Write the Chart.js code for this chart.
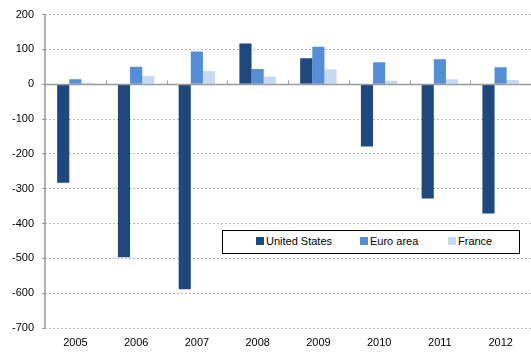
<!DOCTYPE html>
<html>
<head>
<meta charset="utf-8">
<script src="https://cdn.jsdelivr.net/npm/chart.js@4/dist/chart.umd.min.js"></script>
<style>
  body { margin: 0; background: #fff; }
  #wrap { position: relative; width: 531px; height: 352px; }
  #legend {
    position: absolute; left: 222px; top: 230px; width: 296px; height: 22px;
    border: 1px solid #000; background: #fff;
    font: 11px "Liberation Sans", Arial, sans-serif; color: #000;
  }
  #legend span.item { position: absolute; top: 4px; white-space: nowrap; }
  #legend i { display: inline-block; width: 8px; height: 8px; margin-right: 2px; }
</style>
</head>
<body>
<div id="wrap">
  <canvas id="chart" width="531" height="352"></canvas>
  <div id="legend"></div>
</div>
<script>
// values
const years = ['2005', '2006', '2007', '2008', '2009', '2010', '2011', '2012'];
const unitedStates = [-283, -497, -589, 117, 75, -179, -328, -371];
const euroArea = [14, 50, 94, 44, 108, 63, 72, 49];
const france = [4, 24, 38, 22, 43, 10, 14, 12];
const seriesNames = ['United States', 'Euro area', 'France'];
const seriesColors = ['#1F497D', '#558ED5', '#C6D9F1'];

// solid y axis line, zero line and the small category ticks on it
const axisLines = {
    id: 'axisLines',
    afterDatasetsDraw(chart) {
        const x = chart.scales.x, y = chart.scales.y;
        const area = chart.chartArea;
        const y0 = Math.round(y.getPixelForValue(0)) + 0.5;
        const ctx = chart.ctx;
        ctx.save();
        ctx.strokeStyle = '#9a9a9a';
        ctx.lineWidth = 1.5;
        ctx.beginPath();
        ctx.moveTo(area.left, y0);
        ctx.lineTo(area.right, y0);
        ctx.moveTo(area.left, area.top);
        ctx.lineTo(area.left, area.bottom);
        ctx.stroke();
        ctx.lineWidth = 1;
        for (let i = 1; i < years.length; i++) {
            const px = Math.round((x.getPixelForValue(i - 1) + x.getPixelForValue(i)) / 2) + 0.5;
            ctx.beginPath();
            ctx.moveTo(px, y0 - 4);
            ctx.lineTo(px, y0);
            ctx.stroke();
        }
        ctx.restore();
    }
};

new Chart(document.getElementById('chart'), {
    type: 'bar',
    data: {
        labels: years,
        datasets: [unitedStates, euroArea, france].map((d, i) => ({
            label: seriesNames[i],
            data: d,
            backgroundColor: seriesColors[i],
            categoryPercentage: 0.6,
            barPercentage: 1
        }))
    },
    options: {
        responsive: false,
        animation: false,
        layout: { padding: { top: 9, right: 0, left: 0, bottom: 0 } },
        plugins: { legend: { display: false }, tooltip: { enabled: false } },
        scales: {
            x: {
                grid: { display: false },
                border: { display: false },
                ticks: { color: '#000', font: { family: 'Liberation Sans', size: 11 }, padding: 0, maxRotation: 0 },
                afterFit: s => { s.height = 24; }
            },
            y: {
                min: -700,
                max: 200,
                ticks: { stepSize: 100, color: '#000', font: { family: 'Liberation Sans', size: 11 }, padding: 8 },
                grid: {
                    color: '#b4b4b4',
                    lineWidth: 1,
                    tickLength: 3,
                    tickColor: '#9a9a9a'
                },
                border: { display: false, dash: [2, 2] },
                afterFit: s => { s.width = 45; }
            }
        }
    },
    plugins: [axisLines]
});

// legend inside the plot area
const legend = document.getElementById('legend');
const legendX = [33, 137, 225];
seriesNames.forEach((n, i) => {
    const s = document.createElement('span');
    s.className = 'item';
    s.style.left = legendX[i] + 'px';
    s.innerHTML = '<i style="background:' + seriesColors[i] + '"></i>' + n;
    legend.appendChild(s);
});
</script>
</body>
</html>
